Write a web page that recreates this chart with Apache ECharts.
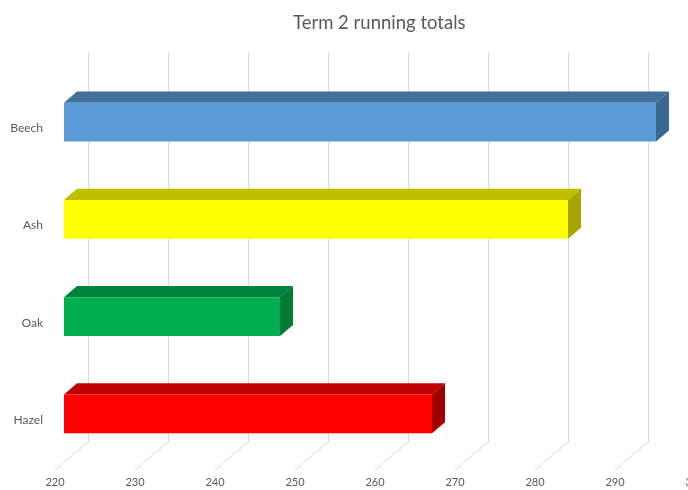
<!DOCTYPE html>
<html>
<head>
<meta charset="utf-8">
<script src="https://cdn.jsdelivr.net/npm/echarts@6/dist/echarts.min.js"></script>
<style>
	html, body { margin: 0; padding: 0; background: #fff; }
	#chart { width: 688px; height: 490px; }
</style>
</head>
<body>
<div id="chart"></div>
<script>
// data
const categories = ['Beech', 'Ash', 'Oak', 'Hazel']
const totals = [294, 283, 247, 266]
const axisTicks = [220, 230, 240, 250, 260, 270, 280, 290, 300]

// face colours: front, top, side
const faceColors = [
	['#5b9bd5', '#41719c', '#3a6690'],
	['#ffff00', '#bfbf00', '#a6a600'],
	['#00b050', '#00843c', '#007a36'],
	['#ff0000', '#c00000', '#a00000'],
]

// 3d depth offsets (px) relative to the back wall
const floorDx = -33, floorDy = 28
const barFrontDx = -24, barFrontDy = 20.5
const barBackDx = -11, barBackDy = 9.3

const myChart = echarts.init(document.getElementById('chart'), null, { renderer: 'canvas' })

const renderBar = (params, api) => {
	const i = api.value(1)
	const base = api.coord([axisTicks[0], i])
	const end = api.coord([api.value(0), i])
	const h = api.size([0, 1])[1] * 0.4
	const c = faceColors[i]
	const fy0 = base[1] + barFrontDy - h / 2
	const fy1 = fy0 + h
	const fx0 = base[0] + barFrontDx
	const fx1 = end[0] + barFrontDx
	const bx0 = base[0] + barBackDx
	const bx1 = end[0] + barBackDx
	const by0 = base[1] + barBackDy - h / 2
	const by1 = by0 + h
	return {
		type: 'group',
		children: [
			{
				type: 'polygon',
				shape: { points: [[fx0, fy0], [fx1, fy0], [bx1, by0], [bx0, by0]] },
				style: { fill: c[1] },
			},
			{
				type: 'polygon',
				shape: { points: [[fx1, fy0], [bx1, by0], [bx1, by1], [fx1, fy1]] },
				style: { fill: c[2] },
			},
			{
				type: 'rect',
				shape: { x: fx0, y: fy0, width: fx1 - fx0, height: h },
				style: { fill: c[0] },
			},
		],
	}
}

const renderFloorLine = (params, api) => {
	const p = api.coord([api.value(0), 0])
	const bottom = params.coordSys.y + params.coordSys.height
	return {
		type: 'line',
		shape: { x1: p[0], y1: bottom, x2: p[0] + floorDx, y2: bottom + floorDy },
		style: { stroke: '#d9d9d9', lineWidth: 1 },
	}
}

const option = {
	backgroundColor: '#ffffff',
	animation: false,
	title: {
		text: 'Term 2 running totals',
		left: 288,
		top: 9,
		textStyle: { fontFamily: 'Lato', fontSize: 18.5, fontWeight: 'normal', color: '#595959' },
	},
	grid: [
		// back wall, runs past the right edge like the original
		{ left: 88, width: 640, top: 53, height: 389, outerBoundsMode: 'none', containLabel: false },
		// front plane (labels)
		{ left: 55, width: 640, top: 79.5, height: 389, outerBoundsMode: 'none', containLabel: false },
	],
	xAxis: [
		{
			gridIndex: 0,
			type: 'value',
			min: 220,
			max: 300,
			interval: 10,
			axisLabel: { show: false },
			axisLine: { show: false },
			axisTick: { show: false },
			splitLine: { show: true, lineStyle: { color: '#d9d9d9', width: 1 } },
		},
		{
			gridIndex: 1,
			type: 'value',
			min: 220,
			max: 300,
			interval: 10,
			axisLabel: { color: '#595959', fontSize: 11, fontFamily: 'Lato', margin: 8 },
			axisLine: { show: false },
			axisTick: { show: false },
			splitLine: { show: false },
		},
	],
	yAxis: [
		{
			gridIndex: 0,
			type: 'category',
			inverse: true,
			data: categories,
			show: false,
		},
		{
			gridIndex: 1,
			type: 'category',
			inverse: true,
			data: categories,
			axisLabel: { color: '#595959', fontSize: 12, fontFamily: 'Lato', margin: 12 },
			axisLine: { show: false },
			axisTick: { show: false },
		},
	],
	series: [
		{
			type: 'custom',
			xAxisIndex: 0,
			yAxisIndex: 0,
			renderItem: renderFloorLine,
			data: axisTicks.map((t) => [t, 0]),
			silent: true,
			z: 1,
		},
		{
			type: 'custom',
			xAxisIndex: 0,
			yAxisIndex: 0,
			renderItem: renderBar,
			encode: { x: 0, y: 1 },
			data: totals.map((v, i) => [v, i]),
			z: 2,
		},
	],
}

option && myChart.setOption(option)
</script>
</body>
</html>
